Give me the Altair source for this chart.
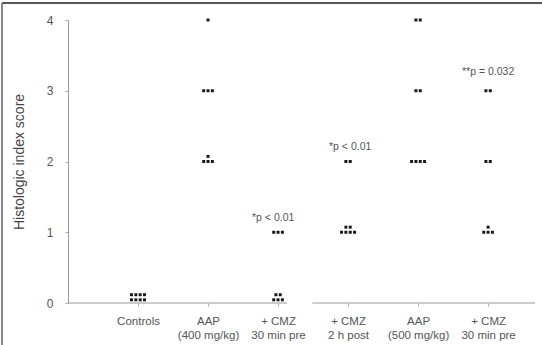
import altair as alt
import pandas as pd

# ---- data ----
group_labels = ["Controls", "AAP|(400 mg/kg)", "+ CMZ|30 min pre",
                "+ CMZ|2 h post", "AAP|(500 mg/kg)", "+ CMZ|30 min pre"]
# each cluster: group number, histologic score, dots per stacked row
cluster_group = [1, 2, 2, 2, 3, 3, 4, 4, 5, 5, 5, 6, 6, 6]
cluster_score = [0, 4, 3, 2, 1, 0, 2, 1, 4, 3, 2, 3, 2, 1]
cluster_rows = [[4, 4], [1], [3], [3, 1], [3], [3, 2], [2], [4, 2],
                [2], [2], [4], [2], [2], [3, 1]]

annot_text = ["*p < 0.01", "*p < 0.01", "**p = 0.032"]
annot_x = [2.93, 4.03, 6.0]
annot_y = [1.2, 2.2, 3.27]

# ---- build dot table (stacked symbols) ----
dx, dy = 0.062, 0.072
rows = []
for g, s, rr in zip(cluster_group, cluster_score, cluster_rows):
    lift = 0.045 if s == 0 else 0.0
    for r, n in enumerate(rr):
        for i in range(n):
            rows.append({"x": g + (i - (n - 1) / 2) * dx,
                         "score": s + lift + r * dy})
dots = pd.DataFrame(rows)
annots = pd.DataFrame({"t": annot_text, "x": annot_x, "y": annot_y})
axis_seg = pd.DataFrame({"x": [0, 3.49], "x2": [3.13, 6.67], "y": [0, 0]})

label_arr = "[" + ",".join(["''"] + ["'" + l + "'" for l in group_labels]) + "]"

xscale = alt.Scale(domain=[0, 6.67], nice=False, zero=False)
yscale = alt.Scale(domain=[0, 4], nice=False)

base = alt.Chart(dots)

points = base.mark_square(size=9, color="#1a1a1a", opacity=1).encode(
    x=alt.X("x:Q", scale=xscale, axis=alt.Axis(
        values=[1, 2, 3, 4, 5, 6], title=None, domain=False, grid=False,
        tickSize=3, tickColor="#aaa", labelColor="#555", labelFontSize=11.5,
        labelPadding=9, labelLineHeight=14, labelFont="Liberation Sans",
        labelExpr="split(" + label_arr + "[datum.value], '|')")),
    y=alt.Y("score:Q", scale=yscale, axis=alt.Axis(
        values=[0, 1, 2, 3, 4], format="d", title="Histologic index score",
        grid=False, domainColor="#999", tickColor="#aaa", tickSize=3,
        labelPadding=12, labelColor="#555", labelFontSize=12,
        labelFont="Liberation Sans", titleColor="#444", titleFontSize=14,
        titleFontWeight="normal", titleFont="Liberation Sans",
        titlePadding=20)),
)

xaxis_line = alt.Chart(axis_seg).mark_rule(color="#999", strokeWidth=1).encode(
    x=alt.X("x:Q", scale=xscale), x2="x2:Q", y=alt.Y("y:Q", scale=yscale))

text = alt.Chart(annots).mark_text(fontSize=10.5, color="#555",
                                   font="Liberation Sans").encode(
    x=alt.X("x:Q", scale=xscale), y=alt.Y("y:Q", scale=yscale), text="t:N")

frame_top = alt.Chart(annots).mark_rule(color="#555", strokeWidth=1.5).encode(
    x=alt.value(-66), x2=alt.value(476), y=alt.value(-17))
frame_left = alt.Chart(annots).mark_rule(color="#777", strokeWidth=1).encode(
    x=alt.value(-66), y=alt.value(-17), y2=alt.value(325))

chart = alt.layer(frame_top, frame_left, xaxis_line, points, text).properties(
    width=467, height=283,
    autosize=alt.AutoSizeParams(type="none"),
    padding={"left": 68, "top": 20, "right": 7, "bottom": 42},
    background="white",
).configure_view(stroke=None)

chart.save("out.html", embed_options={"renderer": "svg", "actions": False})
